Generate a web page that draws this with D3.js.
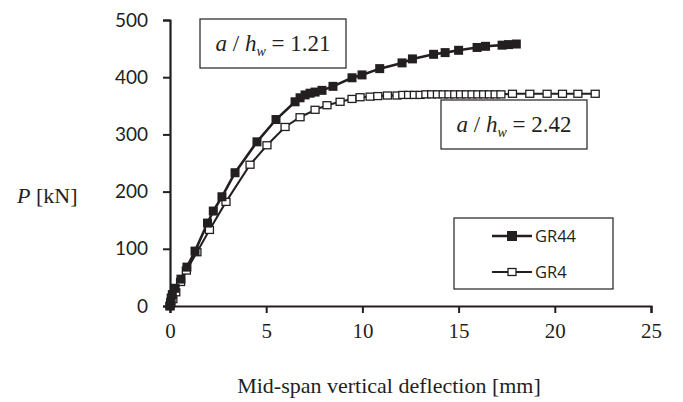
<!DOCTYPE html>
<html>
<head>
<meta charset="utf-8">
<script src="https://cdn.jsdelivr.net/npm/d3@7"></script>
<style>
  body { margin: 0; background: #fff; }
  svg { display: block; }
  .line { fill: none; stroke: #231f20; }
</style>
</head>
<body>
<script>
// data: [deflection mm, load kN]
const gr44 = [
  [0, 0], [0.03, 6], [0.06, 14], [0.12, 20], [0.26, 31], [0.57, 47], [0.88, 68],
  [1.3, 96], [1.95, 145], [2.25, 166], [2.7, 191], [3.38, 233], [4.52, 287],
  [5.51, 326], [6.5, 357], [6.76, 364], [7.02, 369], [7.28, 372], [7.54, 374],
  [7.9, 377], [8.47, 384], [9.46, 399], [9.98, 404], [10.9, 415], [12.06, 425],
  [12.6, 432], [13.7, 440], [14.3, 443], [15.0, 447], [15.96, 452], [16.4, 454],
  [17.26, 456], [17.6, 457], [18.0, 458]
]
const gr4 = [
  [0, 0], [0.05, 5], [0.15, 12], [0.3, 24], [0.55, 42], [0.85, 62], [1.4, 94],
  [2.05, 133], [2.91, 182], [4.16, 247], [5.04, 281], [5.98, 313], [6.76, 330],
  [7.54, 343], [8.16, 351], [8.84, 357], [9.46, 362], [9.88, 365], [10.4, 366],
  [10.8, 367], [11.3, 368], [11.8, 368], [12.1, 369], [12.4, 369], [12.7, 369],
  [13.0, 369], [13.3, 370], [13.6, 370], [13.9, 370], [14.2, 370], [14.5, 370],
  [14.8, 370], [15.1, 370], [15.4, 370], [15.7, 370], [16.0, 370], [16.3, 370],
  [16.6, 370], [16.9, 370], [17.2, 370], [17.8, 371], [18.7, 371], [19.6, 371],
  [20.4, 371], [21.2, 371], [22.1, 371]
]
const xTicks = [0, 5, 10, 15, 20, 25]
const yTicks = [0, 100, 200, 300, 400, 500]
const seriesNames = ["GR44", "GR4"]
const ratios = ["1.21", "2.42"]

//Margin Convention
const margin = {top: 20, right: 32, bottom: 96, left: 170}
const width = 683 - margin.left - margin.right
const height = 402 - margin.top - margin.bottom

const x = d3.scaleLinear().domain([0, 25]).range([0, width])
const y = d3.scaleLinear().domain([0, 500]).range([height, 0])

const root = d3.select("body").append("svg")
  .attr("width", 683)
  .attr("height", 402)

const svg = root.append("g")
  .attr("transform", "translate(" + margin.left + "," + margin.top + ")")

//axes
const xAxis = svg.append("g")
  .attr("transform", "translate(0," + height + ")")
  .call(d3.axisBottom(x).tickValues(xTicks).tickSize(7).tickPadding(10))
xAxis.select(".domain").attr("stroke", "#231f20").attr("stroke-width", 2.2)
xAxis.selectAll(".tick line").attr("stroke", "#231f20").attr("stroke-width", 2)
xAxis.selectAll(".tick text")
  .attr("font-family", "Liberation Serif, Times New Roman, serif")
  .attr("font-size", 21)
  .attr("fill", "#231f20")

const yAxis = svg.append("g")
  .call(d3.axisLeft(y).tickValues(yTicks).tickSize(7).tickPadding(15))
yAxis.select(".domain").attr("stroke", "#231f20").attr("stroke-width", 2.2)
yAxis.selectAll(".tick line").attr("stroke", "#231f20").attr("stroke-width", 2)
yAxis.selectAll(".tick text")
  .attr("font-family", "Lato, Open Sans, sans-serif")
  .attr("font-size", 19)
  .attr("fill", "#231f20")

//axis titles
root.append("text")
  .attr("x", 389)
  .attr("y", 393)
  .attr("text-anchor", "middle")
  .attr("font-family", "Liberation Serif, Times New Roman, serif")
  .attr("font-size", 22)
  .attr("fill", "#231f20")
  .text("Mid-span vertical deflection [mm]")

const pLabel = root.append("text")
  .attr("x", 17)
  .attr("y", 203)
  .attr("font-family", "Liberation Serif, Times New Roman, serif")
  .attr("font-size", 22)
  .attr("fill", "#231f20")
pLabel.append("tspan").attr("font-style", "italic").text("P")
pLabel.append("tspan").text(" [kN]")

//lines
const line = d3.line()
  .x(d => x(d[0]))
  .y(d => y(d[1]))

svg.append("path")
  .datum(gr4)
  .attr("class", "line")
  .attr("stroke-width", 2)
  .attr("d", line)

svg.append("path")
  .datum(gr44)
  .attr("class", "line")
  .attr("stroke-width", 2.6)
  .attr("d", line)

//markers
svg.selectAll(".gr4")
  .data(gr4)
  .enter().append("rect")
  .attr("class", "gr4")
  .attr("x", d => x(d[0]) - 4)
  .attr("y", d => y(d[1]) - 3.5)
  .attr("width", 8)
  .attr("height", 7)
  .attr("fill", "#fff")
  .attr("stroke", "#231f20")
  .attr("stroke-width", 1.3)

svg.selectAll(".gr44")
  .data(gr44)
  .enter().append("rect")
  .attr("class", "gr44")
  .attr("x", d => x(d[0]) - 4.5)
  .attr("y", d => y(d[1]) - 4.5)
  .attr("width", 9)
  .attr("height", 9)
  .attr("fill", "#231f20")

//annotation boxes
function ratioBox(bx, by, value) {
  root.append("rect")
    .attr("x", bx)
    .attr("y", by)
    .attr("width", 146)
    .attr("height", 49)
    .attr("fill", "#fff")
    .attr("stroke", "#231f20")
    .attr("stroke-width", 1.2)
  const t = root.append("text")
    .attr("x", bx + 73)
    .attr("y", by + 32)
    .attr("text-anchor", "middle")
    .attr("font-family", "Liberation Serif, Times New Roman, serif")
    .attr("font-size", 23)
    .attr("fill", "#231f20")
  t.append("tspan").attr("font-style", "italic").text("a")
  t.append("tspan").text(" / ")
  t.append("tspan").attr("font-style", "italic").text("h")
  t.append("tspan").attr("font-style", "italic").attr("font-size", 14).attr("dy", 5).text("w")
  t.append("tspan").attr("dy", -5).text(" = " + value)
}
ratioBox(200, 19, ratios[0])
ratioBox(441, 100, ratios[1])

//legend
const legend = root.append("g")
legend.append("rect")
  .attr("x", 454)
  .attr("y", 218)
  .attr("width", 159)
  .attr("height", 71)
  .attr("fill", "#fff")
  .attr("stroke", "#231f20")
  .attr("stroke-width", 1.2)

seriesNames.forEach(function(name, i) {
  const ly = 236 + i * 36
  legend.append("line")
    .attr("x1", 492).attr("x2", 532)
    .attr("y1", ly).attr("y2", ly)
    .attr("stroke", "#231f20")
    .attr("stroke-width", i === 0 ? 2.6 : 2)
  legend.append("rect")
    .attr("x", i === 0 ? 507 : 508)
    .attr("y", i === 0 ? ly - 5 : ly - 3.5)
    .attr("width", i === 0 ? 10 : 8)
    .attr("height", i === 0 ? 10 : 7)
    .attr("fill", i === 0 ? "#231f20" : "#fff")
    .attr("stroke", "#231f20")
    .attr("stroke-width", i === 0 ? 0 : 1.3)
  legend.append("text")
    .attr("x", 535)
    .attr("y", ly + 6)
    .attr("font-family", "Open Sans, Lato, sans-serif")
    .attr("font-size", 16.5)
    .attr("fill", "#231f20")
    .text(name)
})
</script>
</body>
</html>
